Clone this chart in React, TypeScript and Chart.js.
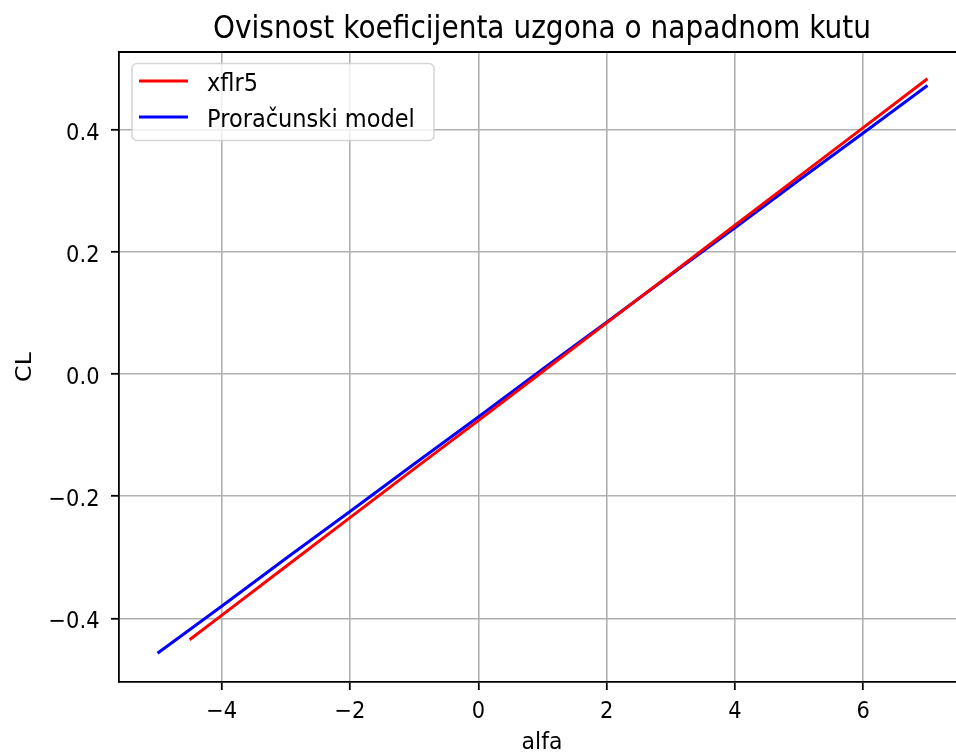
import { useEffect, useRef } from 'react';
import { Chart, registerables } from 'chart.js';

Chart.register(...registerables);

const TITLE = 'Ovisnost koeficijenta uzgona o napadnom kutu';
const X_LABEL = 'alfa';
const Y_LABEL = 'CL';

const xflr5Label = 'xflr5';
const xflr5Alpha = [-4.5, -4, -3, -2, -1, 0, 1, 2, 3, 4, 5, 6, 7];
const xflr5CL = [-0.435, -0.395, -0.315, -0.235, -0.155, -0.076, 0.004, 0.084, 0.164, 0.244, 0.324, 0.404, 0.484];

const modelLabel = 'Proračunski model';
const modelAlpha = [-5, -4, -3, -2, -1, 0, 1, 2, 3, 4, 5, 6, 7];
const modelCL = [-0.457, -0.38, -0.302, -0.225, -0.147, -0.07, 0.008, 0.085, 0.163, 0.24, 0.318, 0.395, 0.473];

const xTickValues = [-4, -2, 0, 2, 4, 6];
const xTickLabels = ['−4', '−2', '0', '2', '4', '6'];
const yTickValues = [-0.4, -0.2, 0, 0.2, 0.4];
const yTickLabels = ['−0.4', '−0.2', '0.0', '0.2', '0.4'];

const X_MIN = -5.6;
const X_MAX = 7.445;
const Y_MIN = -0.5042;
const Y_MAX = 0.5278;

const FONT = '"DejaVu Sans"';

function drawText(
  ctx: CanvasRenderingContext2D,
  s: string,
  x: number,
  y: number,
  size: number,
  align: CanvasTextAlign,
  sy: number,
  rot = 0
) {
  ctx.save();
  ctx.translate(x, y);
  ctx.scale(1, sy);
  if (rot) ctx.rotate(rot);
  ctx.font = `${size}px ${FONT}`;
  ctx.textAlign = align;
  ctx.textBaseline = 'alphabetic';
  ctx.fillStyle = '#000';
  ctx.fillText(s, 0, 0);
  ctx.restore();
}

const overlayPlugin = {
  id: 'overlay',
  afterDraw(chart: any) {
    const ctx: CanvasRenderingContext2D = chart.ctx;
    const area = chart.chartArea;
    const xs = chart.scales.x;
    const ys = chart.scales.y;

    // top spine
    ctx.save();
    ctx.strokeStyle = '#000';
    ctx.lineWidth = 1.8;
    ctx.beginPath();
    ctx.moveTo(area.left - 0.9, area.top);
    ctx.lineTo(area.right, area.top);
    ctx.stroke();
    ctx.restore();

    // title
    drawText(ctx, TITLE, 542, 38, 28, 'center', 1.15);

    // tick labels
    xTickValues.forEach((v, i) => {
      drawText(ctx, xTickLabels[i], xs.getPixelForValue(v), 717.5, 21, 'center', 1.08);
    });
    yTickValues.forEach((v, i) => {
      drawText(ctx, yTickLabels[i], 99.5, ys.getPixelForValue(v) + 9.5, 21, 'right', 1.08);
    });

    // axis labels
    drawText(ctx, X_LABEL, 542, 749, 22, 'center', 1.08);
    drawText(ctx, Y_LABEL, 31, 367, 22, 'center', 1.08, -Math.PI / 2);

    // legend
    const lx = 132, ly = 63.5, lw = 302, lh = 77;
    ctx.save();
    ctx.beginPath();
    ctx.roundRect(lx, ly, lw, lh, 5);
    ctx.fillStyle = 'rgba(255,255,255,0.8)';
    ctx.fill();
    ctx.strokeStyle = 'rgba(204,204,204,0.8)';
    ctx.lineWidth = 1.6;
    ctx.stroke();
    ctx.restore();
    const rows = [81, 117];
    chart.data.datasets.forEach((ds: any, i: number) => {
      const y = rows[i];
      ctx.save();
      ctx.strokeStyle = ds.borderColor;
      ctx.lineWidth = 3;
      ctx.beginPath();
      ctx.moveTo(139, y);
      ctx.lineTo(188, y);
      ctx.stroke();
      ctx.restore();
      drawText(ctx, ds.label, 207, y + 9.5, 22.5, 'left', 1.08);
    });
  },
};

export default function App() {
  const ref = useRef<HTMLCanvasElement>(null);

  useEffect(() => {
    if (!ref.current) return;
    const chart = new Chart(ref.current, {
      type: 'line',
      data: {
        datasets: [
          {
            label: xflr5Label,
            data: xflr5Alpha.map((a, i) => ({ x: a, y: xflr5CL[i] })),
            borderColor: '#ff0000',
            backgroundColor: '#ff0000',
            borderWidth: 3,
            pointRadius: 0,
            tension: 0,
          },
          {
            label: modelLabel,
            data: modelAlpha.map((a, i) => ({ x: a, y: modelCL[i] })),
            borderColor: '#0000ff',
            backgroundColor: '#0000ff',
            borderWidth: 3,
            pointRadius: 0,
            tension: 0,
          },
        ],
      },
      options: {
        animation: false,
        responsive: true,
        maintainAspectRatio: false,
        devicePixelRatio: 1,
        layout: { padding: { top: 52, left: 0, right: 0, bottom: 0 } },
        plugins: {
          legend: { display: false },
          title: { display: false },
          tooltip: { enabled: false },
        },
        scales: {
          x: {
            type: 'linear',
            min: X_MIN,
            max: X_MAX,
            afterBuildTicks: (s: any) => {
              s.ticks = xTickValues.map((v) => ({ value: v }));
            },
            afterFit: (s: any) => {
              s.height = 74;
            },
            ticks: { display: false },
            grid: {
              color: '#b0b0b0',
              lineWidth: 1.6,
              drawTicks: true,
              tickLength: 8,
              tickColor: '#000',
              tickWidth: 1.8,
            },
            border: { color: '#000', width: 1.8 },
          },
          y: {
            type: 'linear',
            min: Y_MIN,
            max: Y_MAX,
            afterBuildTicks: (s: any) => {
              s.ticks = yTickValues.map((v) => ({ value: v }));
            },
            afterFit: (s: any) => {
              s.width = 119;
            },
            ticks: { display: false },
            grid: {
              color: '#b0b0b0',
              lineWidth: 1.6,
              drawTicks: true,
              tickLength: 8,
              tickColor: '#000',
              tickWidth: 1.8,
            },
            border: { color: '#000', width: 1.8 },
          },
        },
      },
      plugins: [overlayPlugin],
    } as any);
    return () => chart.destroy();
  }, []);

  return (
    <div style={{ position: 'absolute', left: 0, top: 0, width: 956, height: 756, background: '#fff' }}>
      <canvas ref={ref} />
    </div>
  );
}
